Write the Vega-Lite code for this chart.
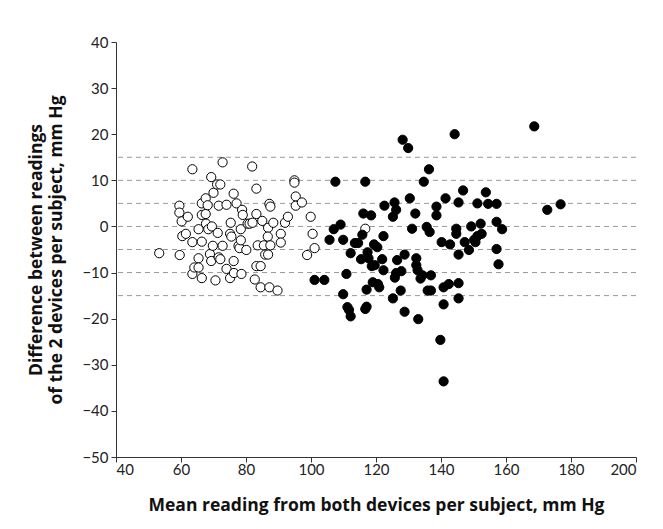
{
  "$schema": "https://vega.github.io/schema/vega-lite/v6.json",
  "autosize": "none",
  "width": 520,
  "height": 415,
  "padding": {"left": 116, "top": 42, "right": 27, "bottom": 72},
  "background": "white",
  "config": {
    "view": {"stroke": null},
    "font": "Lato",
    "axis": {"labelFont": "Lato", "titleFont": "Open Sans", "labelColor": "#222", "titleColor": "#111", "domainColor": "#333", "tickColor": "#333", "grid": false, "labelFontSize": 15, "titleFontSize": 17.5, "titleFontWeight": "bold", "tickSize": 5}
  },
  "datasets": {
    "refs": [{"d": 15}, {"d": 10}, {"d": 5}, {"d": 0}, {"d": -5}, {"d": -10}, {"d": -15}],
    "pts": [
      {"mean": 53.3, "diff": -5.8, "group": "open"},
      {"mean": 59.5, "diff": 4.5, "group": "open"},
      {"mean": 59.5, "diff": 3.0, "group": "open"},
      {"mean": 60.2, "diff": 1.1, "group": "open"},
      {"mean": 59.6, "diff": -6.2, "group": "open"},
      {"mean": 60.4, "diff": -2.1, "group": "open"},
      {"mean": 61.5, "diff": -1.6, "group": "open"},
      {"mean": 62.1, "diff": 2.1, "group": "open"},
      {"mean": 63.5, "diff": 12.4, "group": "open"},
      {"mean": 63.5, "diff": -3.4, "group": "open"},
      {"mean": 63.5, "diff": -10.3, "group": "open"},
      {"mean": 64.1, "diff": -8.9, "group": "open"},
      {"mean": 65.4, "diff": -0.6, "group": "open"},
      {"mean": 65.4, "diff": -6.9, "group": "open"},
      {"mean": 65.4, "diff": -8.9, "group": "open"},
      {"mean": 66.4, "diff": 2.5, "group": "open"},
      {"mean": 66.4, "diff": 5.0, "group": "open"},
      {"mean": 66.4, "diff": -3.3, "group": "open"},
      {"mean": 66.4, "diff": -11.2, "group": "open"},
      {"mean": 67.6, "diff": 6.1, "group": "open"},
      {"mean": 67.6, "diff": 2.7, "group": "open"},
      {"mean": 67.7, "diff": 0.6, "group": "open"},
      {"mean": 68.2, "diff": 4.6, "group": "open"},
      {"mean": 68.4, "diff": -0.6, "group": "open"},
      {"mean": 68.9, "diff": -6.0, "group": "open"},
      {"mean": 69.3, "diff": 10.7, "group": "open"},
      {"mean": 69.5, "diff": 0.0, "group": "open"},
      {"mean": 69.3, "diff": -7.5, "group": "open"},
      {"mean": 70.0, "diff": 7.3, "group": "open"},
      {"mean": 69.8, "diff": -4.2, "group": "open"},
      {"mean": 70.6, "diff": -11.7, "group": "open"},
      {"mean": 71.1, "diff": 9.1, "group": "open"},
      {"mean": 71.3, "diff": -1.4, "group": "open"},
      {"mean": 71.6, "diff": 4.5, "group": "open"},
      {"mean": 72.1, "diff": 9.1, "group": "open"},
      {"mean": 71.6, "diff": -6.7, "group": "open"},
      {"mean": 72.1, "diff": -7.1, "group": "open"},
      {"mean": 72.8, "diff": 13.9, "group": "open"},
      {"mean": 72.8, "diff": -4.2, "group": "open"},
      {"mean": 74.0, "diff": 4.7, "group": "open"},
      {"mean": 74.0, "diff": -9.2, "group": "open"},
      {"mean": 75.1, "diff": -1.6, "group": "open"},
      {"mean": 75.1, "diff": -11.2, "group": "open"},
      {"mean": 75.3, "diff": 0.8, "group": "open"},
      {"mean": 75.5, "diff": -2.2, "group": "open"},
      {"mean": 76.2, "diff": 7.1, "group": "open"},
      {"mean": 76.2, "diff": -7.5, "group": "open"},
      {"mean": 76.3, "diff": -10.1, "group": "open"},
      {"mean": 77.1, "diff": 5.0, "group": "open"},
      {"mean": 77.7, "diff": -4.2, "group": "open"},
      {"mean": 78.0, "diff": -4.7, "group": "open"},
      {"mean": 78.4, "diff": -0.6, "group": "open"},
      {"mean": 78.4, "diff": -3.0, "group": "open"},
      {"mean": 78.6, "diff": -10.3, "group": "open"},
      {"mean": 78.8, "diff": 3.6, "group": "open"},
      {"mean": 79.0, "diff": 2.5, "group": "open"},
      {"mean": 80.1, "diff": -5.1, "group": "open"},
      {"mean": 80.5, "diff": 0.6, "group": "open"},
      {"mean": 81.1, "diff": 0.6, "group": "open"},
      {"mean": 81.9, "diff": 13.0, "group": "open"},
      {"mean": 82.0, "diff": 0.8, "group": "open"},
      {"mean": 82.7, "diff": -11.5, "group": "open"},
      {"mean": 83.2, "diff": 8.2, "group": "open"},
      {"mean": 83.2, "diff": 2.7, "group": "open"},
      {"mean": 83.2, "diff": -8.6, "group": "open"},
      {"mean": 83.6, "diff": -4.1, "group": "open"},
      {"mean": 84.5, "diff": -8.6, "group": "open"},
      {"mean": 84.5, "diff": -13.2, "group": "open"},
      {"mean": 85.0, "diff": 1.2, "group": "open"},
      {"mean": 85.5, "diff": -4.1, "group": "open"},
      {"mean": 85.9, "diff": -6.1, "group": "open"},
      {"mean": 86.8, "diff": -0.3, "group": "open"},
      {"mean": 86.7, "diff": -2.2, "group": "open"},
      {"mean": 86.8, "diff": -6.1, "group": "open"},
      {"mean": 87.2, "diff": 4.9, "group": "open"},
      {"mean": 87.5, "diff": 4.3, "group": "open"},
      {"mean": 87.2, "diff": -13.2, "group": "open"},
      {"mean": 87.5, "diff": -4.1, "group": "open"},
      {"mean": 88.4, "diff": 0.8, "group": "open"},
      {"mean": 89.7, "diff": -13.9, "group": "open"},
      {"mean": 90.7, "diff": -1.6, "group": "open"},
      {"mean": 90.7, "diff": -3.5, "group": "open"},
      {"mean": 92.0, "diff": 0.8, "group": "open"},
      {"mean": 92.9, "diff": 2.1, "group": "open"},
      {"mean": 94.9, "diff": 10.0, "group": "open"},
      {"mean": 94.9, "diff": 9.5, "group": "open"},
      {"mean": 95.3, "diff": 6.5, "group": "open"},
      {"mean": 95.3, "diff": 4.5, "group": "open"},
      {"mean": 97.2, "diff": 5.2, "group": "open"},
      {"mean": 98.8, "diff": -6.2, "group": "open"},
      {"mean": 99.9, "diff": 2.1, "group": "open"},
      {"mean": 100.5, "diff": -1.6, "group": "open"},
      {"mean": 101.1, "diff": -4.7, "group": "open"},
      {"mean": 116.7, "diff": -0.5, "group": "open"},
      {"mean": 105.7, "diff": -2.9, "group": "filled"},
      {"mean": 107.0, "diff": -0.6, "group": "filled"},
      {"mean": 107.5, "diff": 9.7, "group": "filled"},
      {"mean": 109.1, "diff": 0.4, "group": "filled"},
      {"mean": 109.9, "diff": -2.9, "group": "filled"},
      {"mean": 109.9, "diff": -14.7, "group": "filled"},
      {"mean": 101.1, "diff": -11.6, "group": "filled"},
      {"mean": 104.1, "diff": -11.6, "group": "filled"},
      {"mean": 110.9, "diff": -10.3, "group": "filled"},
      {"mean": 111.2, "diff": -17.5, "group": "filled"},
      {"mean": 111.7, "diff": -18.1, "group": "filled"},
      {"mean": 112.2, "diff": -19.5, "group": "filled"},
      {"mean": 112.2, "diff": -5.8, "group": "filled"},
      {"mean": 113.5, "diff": -3.6, "group": "filled"},
      {"mean": 114.5, "diff": -3.6, "group": "filled"},
      {"mean": 115.4, "diff": -7.1, "group": "filled"},
      {"mean": 115.8, "diff": -1.8, "group": "filled"},
      {"mean": 116.1, "diff": 2.8, "group": "filled"},
      {"mean": 116.7, "diff": 9.7, "group": "filled"},
      {"mean": 116.7, "diff": -17.9, "group": "filled"},
      {"mean": 117.1, "diff": -17.4, "group": "filled"},
      {"mean": 117.1, "diff": -13.7, "group": "filled"},
      {"mean": 117.4, "diff": -5.6, "group": "filled"},
      {"mean": 117.7, "diff": -6.9, "group": "filled"},
      {"mean": 118.5, "diff": 2.4, "group": "filled"},
      {"mean": 118.7, "diff": -8.6, "group": "filled"},
      {"mean": 119.0, "diff": -12.1, "group": "filled"},
      {"mean": 119.4, "diff": -3.9, "group": "filled"},
      {"mean": 119.6, "diff": -8.4, "group": "filled"},
      {"mean": 120.4, "diff": -4.5, "group": "filled"},
      {"mean": 121.0, "diff": -13.2, "group": "filled"},
      {"mean": 120.6, "diff": -12.5, "group": "filled"},
      {"mean": 121.9, "diff": -7.1, "group": "filled"},
      {"mean": 122.3, "diff": -9.5, "group": "filled"},
      {"mean": 122.3, "diff": -2.1, "group": "filled"},
      {"mean": 122.6, "diff": 4.5, "group": "filled"},
      {"mean": 125.2, "diff": 2.1, "group": "filled"},
      {"mean": 125.7, "diff": 5.2, "group": "filled"},
      {"mean": 126.2, "diff": 3.6, "group": "filled"},
      {"mean": 125.2, "diff": -15.6, "group": "filled"},
      {"mean": 125.8, "diff": -11.1, "group": "filled"},
      {"mean": 126.2, "diff": -10.1, "group": "filled"},
      {"mean": 126.5, "diff": -7.3, "group": "filled"},
      {"mean": 127.6, "diff": -13.9, "group": "filled"},
      {"mean": 127.8, "diff": -9.7, "group": "filled"},
      {"mean": 128.2, "diff": 18.8, "group": "filled"},
      {"mean": 128.8, "diff": -18.5, "group": "filled"},
      {"mean": 128.8, "diff": -6.1, "group": "filled"},
      {"mean": 129.9, "diff": 17.0, "group": "filled"},
      {"mean": 130.4, "diff": 6.1, "group": "filled"},
      {"mean": 131.1, "diff": -0.5, "group": "filled"},
      {"mean": 132.1, "diff": 2.8, "group": "filled"},
      {"mean": 132.4, "diff": -6.9, "group": "filled"},
      {"mean": 132.4, "diff": -8.4, "group": "filled"},
      {"mean": 132.8, "diff": -9.5, "group": "filled"},
      {"mean": 133.0, "diff": -20.1, "group": "filled"},
      {"mean": 133.7, "diff": -11.3, "group": "filled"},
      {"mean": 134.3, "diff": -10.6, "group": "filled"},
      {"mean": 134.7, "diff": 9.7, "group": "filled"},
      {"mean": 135.6, "diff": -0.1, "group": "filled"},
      {"mean": 135.9, "diff": -13.9, "group": "filled"},
      {"mean": 136.3, "diff": 12.4, "group": "filled"},
      {"mean": 136.5, "diff": -1.2, "group": "filled"},
      {"mean": 136.9, "diff": -10.6, "group": "filled"},
      {"mean": 136.9, "diff": -13.9, "group": "filled"},
      {"mean": 138.6, "diff": 4.3, "group": "filled"},
      {"mean": 138.6, "diff": 2.4, "group": "filled"},
      {"mean": 139.8, "diff": -24.6, "group": "filled"},
      {"mean": 140.2, "diff": -3.4, "group": "filled"},
      {"mean": 140.8, "diff": -16.9, "group": "filled"},
      {"mean": 140.8, "diff": -13.2, "group": "filled"},
      {"mean": 140.8, "diff": -33.6, "group": "filled"},
      {"mean": 141.4, "diff": 6.1, "group": "filled"},
      {"mean": 142.4, "diff": -12.5, "group": "filled"},
      {"mean": 142.8, "diff": -3.9, "group": "filled"},
      {"mean": 144.2, "diff": 20.0, "group": "filled"},
      {"mean": 144.7, "diff": -0.5, "group": "filled"},
      {"mean": 144.7, "diff": -1.6, "group": "filled"},
      {"mean": 145.4, "diff": 5.2, "group": "filled"},
      {"mean": 145.4, "diff": -6.1, "group": "filled"},
      {"mean": 145.4, "diff": -12.3, "group": "filled"},
      {"mean": 145.4, "diff": -15.6, "group": "filled"},
      {"mean": 146.8, "diff": 7.8, "group": "filled"},
      {"mean": 147.3, "diff": -3.4, "group": "filled"},
      {"mean": 148.6, "diff": -5.1, "group": "filled"},
      {"mean": 149.3, "diff": 0.0, "group": "filled"},
      {"mean": 150.6, "diff": -3.4, "group": "filled"},
      {"mean": 150.2, "diff": -2.9, "group": "filled"},
      {"mean": 151.2, "diff": 5.0, "group": "filled"},
      {"mean": 151.2, "diff": -2.1, "group": "filled"},
      {"mean": 152.2, "diff": 0.6, "group": "filled"},
      {"mean": 152.5, "diff": -1.6, "group": "filled"},
      {"mean": 153.8, "diff": 7.4, "group": "filled"},
      {"mean": 154.5, "diff": 4.9, "group": "filled"},
      {"mean": 157.1, "diff": 4.9, "group": "filled"},
      {"mean": 157.1, "diff": 1.0, "group": "filled"},
      {"mean": 157.1, "diff": -4.9, "group": "filled"},
      {"mean": 157.7, "diff": -8.2, "group": "filled"},
      {"mean": 158.8, "diff": -0.6, "group": "filled"},
      {"mean": 168.7, "diff": 21.7, "group": "filled"},
      {"mean": 172.7, "diff": 3.6, "group": "filled"},
      {"mean": 176.8, "diff": 4.8, "group": "filled"}
    ]
  },
  "layer": [
    {
      "data": {"name": "refs"},
      "mark": {"type": "rule", "color": "#999", "strokeDash": [5, 4], "strokeWidth": 1},
      "encoding": {"y": {"field": "d", "type": "quantitative", "scale": {"domain": [-50, 40]}}}
    },
    {
      "data": {"name": "pts"},
      "mark": {"type": "point", "shape": "circle", "size": 85, "strokeWidth": 1, "opacity": 1},
      "encoding": {
        "x": {"field": "mean", "type": "quantitative", "scale": {"domain": [40, 200], "nice": false},
              "axis": {"values": [40, 60, 80, 100, 120, 140, 160, 180, 200], "title": "Mean reading from both devices per subject, mm Hg", "titlePadding": 19, "labelPadding": 0}},
        "y": {"field": "diff", "type": "quantitative", "scale": {"domain": [-50, 40], "nice": false},
              "axis": {"values": [-50, -40, -30, -20, -10, 0, 10, 20, 30, 40], "title": ["Difference between readings", "of the 2 devices per subject, mm Hg"], "titlePadding": 16, "titleLineHeight": 20, "labelPadding": 3}},
        "fill": {"field": "group", "type": "nominal", "scale": {"domain": ["open", "filled"], "range": ["white", "black"]}, "legend": null},
        "stroke": {"value": "black"}
      }
    }
  ]
}
